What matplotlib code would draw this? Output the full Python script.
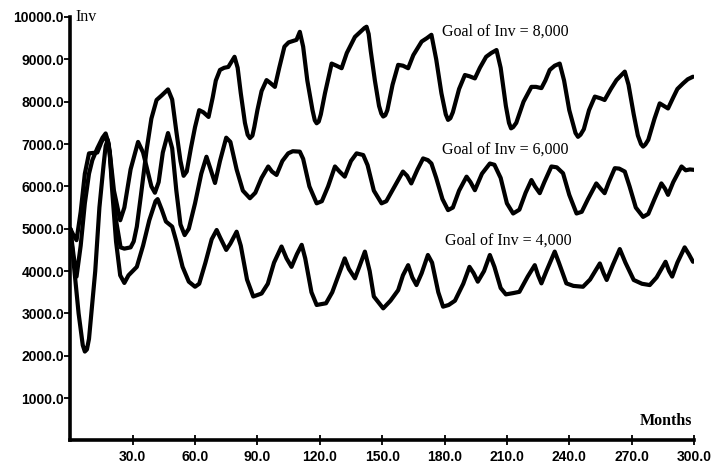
import matplotlib
matplotlib.use("Agg")
import matplotlib.pyplot as plt
from matplotlib.ticker import FormatStrFormatter

# --- data (months, inventory) ---
months_8000 = [0, 1.5, 3, 5, 7, 9, 10.6, 13, 15.5, 17, 18.5, 20, 22, 24.2, 26, 29, 30.5, 32,
               34, 36.7, 39, 41.5, 44, 47, 49, 51, 53, 54.5, 56, 58, 60, 62, 64, 66.5, 68.5,
               70, 72, 74, 76, 79, 80.5, 82, 84, 85.3, 86.4, 87.6, 88.5, 90, 92, 94.4, 96, 98.4,
               100.5, 103, 105, 108.8, 110.4, 112, 114, 116.5, 117.6, 118.5, 119.5, 120.5, 122.5,
               125.7, 128, 130.5, 133, 136.9, 139.5, 141.5, 142.5, 143.5, 144.5, 146.5, 148.5,
               149.6, 150.5, 151.5, 152.5, 155, 157.7, 160, 162.5, 165, 169, 171.5, 173.7, 176,
               178.5, 180.6, 181.7, 182.8, 184, 187, 189.8, 192, 194.6, 197, 200, 202.5, 205,
               207, 209.5, 211, 212, 213, 214.5, 218, 221.8, 224, 226.6, 228.5, 230.6, 233,
               235.4, 237.5, 240, 243, 244.2, 245.4, 247, 249.5, 252.3, 255, 257, 260, 262.7,
               266.7, 268.5, 271, 273, 274.5, 275.5, 276.6, 278, 281, 283.5, 285.5, 287.5, 290,
               292, 294.7, 297, 299.5]
inv_8000 = [5000, 4400, 3870, 4600, 5600, 6300, 6620, 6900, 7150, 7250, 7000, 6200, 5200, 4560,
            4530, 4560, 4700, 5050, 5800, 6860, 7600, 8040, 8150, 8290, 8050, 7300, 6600, 6250,
            6350, 6900, 7400, 7800, 7750, 7640, 8100, 8500, 8750, 8800, 8820, 9060, 8800, 8200,
            7500, 7220, 7140, 7200, 7400, 7800, 8250, 8510, 8450, 8350, 8800, 9300, 9400, 9460,
            9650, 9300, 8500, 7800, 7560, 7490, 7530, 7700, 8200, 8900, 8850, 8790, 9150, 9530,
            9650, 9740, 9770, 9600, 9200, 8500, 7900, 7720, 7650, 7680, 7800, 8400, 8870, 8850,
            8790, 9100, 9420, 9500, 9580, 9000, 8200, 7700, 7570, 7610, 7750, 8300, 8630, 8600,
            8550, 8800, 9060, 9150, 9220, 8800, 7900, 7500, 7370, 7400, 7500, 8000, 8350, 8350,
            8320, 8500, 8750, 8850, 8900, 8500, 7800, 7260, 7170, 7220, 7350, 7800, 8120, 8080,
            8040, 8300, 8510, 8710, 8400, 7700, 7200, 7000, 6940, 6990, 7100, 7600, 7960, 7900,
            7840, 8100, 8300, 8430, 8530, 8590]

months_6000 = [0, 1.5, 3, 5, 7, 9, 11, 13, 15, 17, 19, 21, 24, 26, 29, 32.6, 35, 37, 39, 40.7,
               42.5, 44.5, 47, 49, 51, 53, 55, 57, 60, 63, 65.5, 67.5, 69.6, 72, 75, 77, 80, 83,
               86.4, 89, 92, 95.2, 97, 99.2, 102, 104.8, 107, 110.4, 112, 115, 118.5, 121, 124,
               127.3, 129.5, 132, 135, 137.7, 140.9, 143, 146, 149.7, 152, 156, 160, 162, 164,
               167, 169.7, 172, 173.7, 176, 179, 181.7, 184, 187, 190.6, 192.5, 194.6, 198,
               201.8, 204, 207, 210, 213, 216, 219, 221.8, 223.5, 225.8, 228, 231.4, 234, 237,
               240, 243.5, 246, 249, 253, 255, 257, 259, 261.9, 264, 266.7, 269, 272, 275.5, 278,
               281, 284.3, 286, 287.5, 290, 294, 296, 298, 300]
inv_6000 = [5000, 4850, 4730, 5400, 6300, 6780, 6790, 6800, 7050, 7210, 6800, 5900, 5200, 5500,
            6400, 7050, 6800, 6400, 6000, 5850, 6100, 6800, 7260, 6900, 5900, 5100, 4850, 5000,
            5600, 6300, 6700, 6400, 6080, 6600, 7150, 7050, 6400, 5900, 5720, 5850, 6200, 6470,
            6350, 6270, 6600, 6780, 6830, 6820, 6650, 6000, 5600, 5650, 6000, 6470, 6350, 6230,
            6600, 6780, 6740, 6500, 5900, 5600, 5650, 6000, 6350, 6250, 6070, 6400, 6660, 6620,
            6540, 6200, 5700, 5440, 5500, 5900, 6230, 6100, 5910, 6300, 6540, 6510, 6200, 5600,
            5360, 5450, 5850, 6150, 6000, 5840, 6100, 6470, 6450, 6310, 5800, 5360, 5400, 5700,
            6070, 5950, 5840, 6100, 6430, 6420, 6350, 6000, 5500, 5280, 5350, 5700, 6070, 5950,
            5800, 6100, 6470, 6380, 6400, 6390]

months_4000 = [0, 2, 4, 6, 7, 8, 9, 12, 14, 16, 17, 18, 19, 20, 22, 24, 26, 28, 30, 32, 35, 38,
               41, 42, 44, 46, 49, 51, 54, 57, 60, 62, 65, 68, 70.4, 72, 75, 77, 80, 82, 85, 88,
               92, 95, 98, 101.6, 104, 106.4, 109, 111.3, 113, 116, 118.5, 123, 126, 129, 132,
               134, 136.9, 139, 141.7, 144, 146, 150.5, 154, 157.7, 160, 162.5, 164.5, 166.5,
               169, 172, 174, 177, 179.3, 182, 185, 189, 192, 194, 196, 199, 201.8, 204, 207,
               209.5, 213, 216, 220, 223.4, 225, 226.6, 229, 233, 235, 238.6, 242, 246.6, 250,
               254.7, 256.5, 258, 261, 264.3, 267, 271, 275, 278.7, 282, 286.3, 288, 289.5, 292,
               295.5, 297.5, 299.5]
inv_4000 = [5000, 4000, 3000, 2250, 2100, 2150, 2400, 4000, 5500, 6500, 6950, 7100, 6800, 6000,
            4700, 3900, 3720, 3900, 4000, 4100, 4600, 5200, 5650, 5700, 5450, 5170, 5050, 4700,
            4100, 3750, 3630, 3700, 4200, 4750, 4970, 4800, 4500, 4650, 4930, 4600, 3800, 3400,
            3470, 3700, 4200, 4580, 4300, 4100, 4400, 4620, 4300, 3500, 3200, 3240, 3500, 3900,
            4300, 4050, 3830, 4100, 4460, 4000, 3400, 3120, 3300, 3550, 3900, 4140, 3850, 3670,
            3950, 4380, 4200, 3500, 3160, 3200, 3300, 3700, 4100, 3950, 3750, 4000, 4380, 4100,
            3600, 3450, 3480, 3510, 3870, 4140, 3900, 3710, 4000, 4460, 4200, 3710, 3650, 3630,
            3800, 4180, 3950, 3790, 4150, 4520, 4200, 3790, 3700, 3670, 3850, 4220, 4000, 3870,
            4200, 4560, 4400, 4220]

goal_labels = ["Goal of Inv = 8,000", "Goal of Inv = 6,000", "Goal of Inv = 4,000"]
label_months = [179, 179, 180]
label_values = [9650, 6870, 4730]

x_ticks = [30, 60, 90, 120, 150, 180, 210, 240, 270, 300]
y_ticks = [1000, 2000, 3000, 4000, 5000, 6000, 7000, 8000, 9000, 10000]

# --- figure ---
fig = plt.figure(figsize=(7.18, 4.68), dpi=100)
ax = fig.add_axes([0.0979, 0.0588, 0.8687, 0.9049])

for m, v in [(months_8000, inv_8000), (months_6000, inv_6000), (months_4000, inv_4000)]:
    ax.plot(m, v, color="black", lw=3.0, solid_joinstyle="round", solid_capstyle="round")

ax.set_xlim(0, 300)
ax.set_ylim(0, 10000)
ax.set_xticks(x_ticks)
ax.set_yticks(y_ticks)
ax.xaxis.set_major_formatter(FormatStrFormatter("%.1f"))
ax.yaxis.set_major_formatter(FormatStrFormatter("%.1f"))

for s in ["top", "right"]:
    ax.spines[s].set_visible(False)
for s in ["left", "bottom"]:
    ax.spines[s].set_linewidth(2.6)

ax.tick_params(axis="x", direction="inout", length=7, width=1.3, pad=3)
ax.tick_params(axis="y", direction="out", length=4, width=1.3, pad=0.5)
for lab in ax.get_xticklabels() + ax.get_yticklabels():
    lab.set_fontfamily("Liberation Sans")
    lab.set_fontweight("bold")
    lab.set_fontsize(10)

serif = "Liberation Serif"
ax.text(2.5, 10000, "Inv", family=serif, fontsize=11.5, ha="left", va="center")
ax.text(299, 460, "Months", family=serif, fontsize=11.5, weight="bold", ha="right", va="center")
for txt, mx, vy in zip(goal_labels, label_months, label_values):
    ax.text(mx, vy, txt, family=serif, fontsize=11.5, ha="left", va="center")

fig.savefig("out.png", dpi=100)
